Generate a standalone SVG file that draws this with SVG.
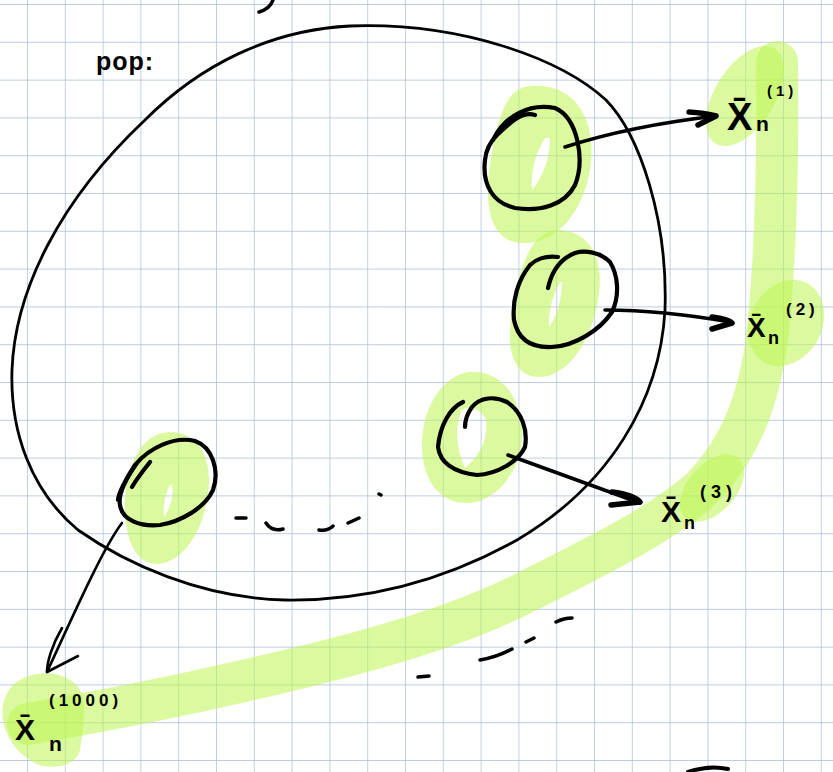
<svg xmlns="http://www.w3.org/2000/svg" width="833" height="772" viewBox="0 0 833 772">
<defs>
<pattern id="grid" x="27" y="4" width="37.8" height="37.8" patternUnits="userSpaceOnUse">
<path d="M0,0 V37.8 M0,0 H37.8" fill="none" stroke="#a9bbd9" stroke-width="1.4"/>
</pattern>
<style>
.hl{fill:rgb(190,245,80);fill-opacity:0.55;fill-rule:evenodd}
.band{fill:none;stroke:rgb(190,245,80);stroke-opacity:0.55;stroke-width:42;stroke-linecap:round;stroke-linejoin:round}
.ink{fill:none;stroke:#000;stroke-linecap:round;stroke-linejoin:round}
.ring{stroke-width:4.2}
.thin{stroke-width:2.6}
.arr{stroke-width:3.6}
.head{stroke-width:5.5}
.dot{stroke-width:3.5}
.lab{font-family:"Liberation Sans",Arial,sans-serif;font-weight:bold;fill:#000}
</style>
</defs>
<rect width="833" height="772" fill="#fff"/>
<rect width="833" height="772" fill="url(#grid)"/>

<g id="highlight-band">
<path class="band" d="M777,62 C778,150 776,250 768,330 C760,400 740,450 700,490 C660,525 600,555 520,595 C440,635 320,665 180,695 C110,710 60,718 28,724"/>
<ellipse class="hl" cx="745" cy="96" rx="30" ry="56" transform="rotate(32 745 96)"/>
<ellipse class="hl" cx="786" cy="323" rx="36" ry="45" transform="rotate(28 786 323)"/>
<ellipse class="hl" cx="712" cy="488" rx="24" ry="40" transform="rotate(42 712 488)"/>
<path class="hl" d="M20,680 C40,668 70,672 80,690 C88,710 82,735 80,750 C76,768 45,772 30,760 C10,748 0,725 3,705 C6,692 12,684 20,680 Z"/>
</g>

<g id="population">
<path class="ink" stroke-width="2.8" d="M145,120 C200,65 270,30 350,26 C460,22 560,58 606,100 C640,135 668,220 665,310 C660,400 610,485 517,540 C440,583 360,601 285,600 C200,598 125,563 78,530 C30,490 10,430 12,370 C15,290 60,200 145,120"/>
<text class="lab" x="96" y="70" font-size="25" letter-spacing="1">pop:</text>
<path class="ink" stroke-width="3.5" d="M273,0 C271,6 266,10 259,12"/>
</g>

<g id="sample1">
<path class="hl" d="M530,86 C575,82 598,120 590,170 C582,215 555,245 520,243 C490,240 484,205 490,165 C497,120 505,88 530,86 Z M545,138 C536,152 530,172 532,190 C542,178 550,160 550,138 Z"/>
<path class="ink ring" d="M493,140 C505,115 530,103 555,108 C578,118 585,160 575,185 C565,205 540,212 515,208 C493,203 482,185 485,160 C486,150 490,142 497,135 C505,128 520,110 535,115"/>
</g>

<g id="sample2">
<path class="hl" d="M560,230 C592,232 605,262 598,300 C592,335 575,368 548,376 C520,382 508,360 510,330 C512,300 520,262 535,242 C543,234 550,230 560,230 Z M560,282 C552,295 548,315 549,327 C556,318 562,300 562,282 Z"/>
<path class="ink ring" d="M558,257 C545,255 535,260 530,265 C518,280 512,300 514,320 C518,340 532,348 552,347 C575,346 600,330 612,312 C620,295 618,275 610,262 C600,252 585,250 575,253 C562,258 552,270 548,288"/>
</g>

<g id="sample3">
<path class="hl" d="M470,372 C500,370 520,395 522,430 C524,465 500,500 470,503 C440,505 422,480 422,445 C422,405 445,374 470,372 Z M462,410 C455,425 455,445 465,468 C480,455 488,440 486,420 C482,410 470,405 462,410 Z"/>
<path class="ink ring" d="M463,402 C450,408 440,425 438,447 C440,462 452,472 477,475 C497,474 518,462 525,447 C528,430 522,412 507,402 C495,396 480,397 472,407 C467,414 465,422 465,427"/>
</g>

<g id="sample4">
<path class="hl" d="M170,432 C200,432 213,460 208,495 C203,530 185,560 160,564 C135,565 125,540 125,505 C125,470 140,432 170,432 Z M170,485 C164,495 163,510 164,517 C170,508 174,496 172,485 Z"/>
<path class="ink ring" d="M137,463 C125,480 118,495 120,505 C122,520 140,527 160,525 C180,522 205,508 213,490 C220,470 212,447 195,441 C175,436 150,447 135,465 C125,480 118,495 118,500 M150,462 C142,472 136,480 132,487"/>
</g>

<g id="mean1">
<text class="lab" x="727" y="130" font-size="38">X̄</text>
<text class="lab" x="756" y="131" font-size="21">n</text>
<text class="lab" x="767" y="96" font-size="15" letter-spacing="4">(1)</text>
</g>
<g id="mean2">
<text class="lab" x="747" y="337" font-size="28">X̄</text>
<text class="lab" x="768" y="344" font-size="18">n</text>
<text class="lab" x="786" y="315" font-size="17" letter-spacing="4">(2)</text>
</g>
<g id="mean3">
<text class="lab" x="661" y="522" font-size="30">X̄</text>
<text class="lab" x="684" y="529" font-size="18">n</text>
<text class="lab" x="700" y="498" font-size="18" letter-spacing="5">(3)</text>
</g>
<g id="mean1000">
<text class="lab" x="15" y="740" font-size="30">X̄</text>
<text class="lab" x="49" y="751" font-size="21">n</text>
<text class="lab" x="49" y="706" font-size="17" letter-spacing="4">(1000)</text>
</g>

<g id="connectors">
<path class="ink arr" d="M565,147 Q630,126 716,116"/>
<path class="ink head" d="M689,112 Q705,113 716,116 L698,125"/>
<path class="ink arr" d="M605,310 C650,310 690,315 730,322"/>
<path class="ink head" d="M712,317 Q728,319 732,323 L712,329"/>
<path class="ink arr" d="M508,455 L640,503"/>
<path class="ink head" d="M612,492 Q634,495 640,502 L611,505"/>
<path class="ink thin" d="M122,523 C105,545 80,600 47,672"/>
<path class="ink thin" d="M62,628 C52,645 47,662 47,672 L78,656"/>
</g>

<g id="ellipsis-marks">
<path class="ink dot" d="M236,518 L246,518 M266,523 C270,529 276,531 283,529 M319,530 C325,531 330,529 333,526 M348,523 C353,521 357,519 359,518 M379,494 L381,495"/>
<path class="ink dot" d="M418,677 L429,676 M480,660 C492,658 503,654 512,649 M526,642 L534,638 M556,622 C562,619 567,618 572,618"/>
<path class="ink" stroke-width="4" d="M688,772 C700,768 715,766 728,769"/>
</g>
</svg>
